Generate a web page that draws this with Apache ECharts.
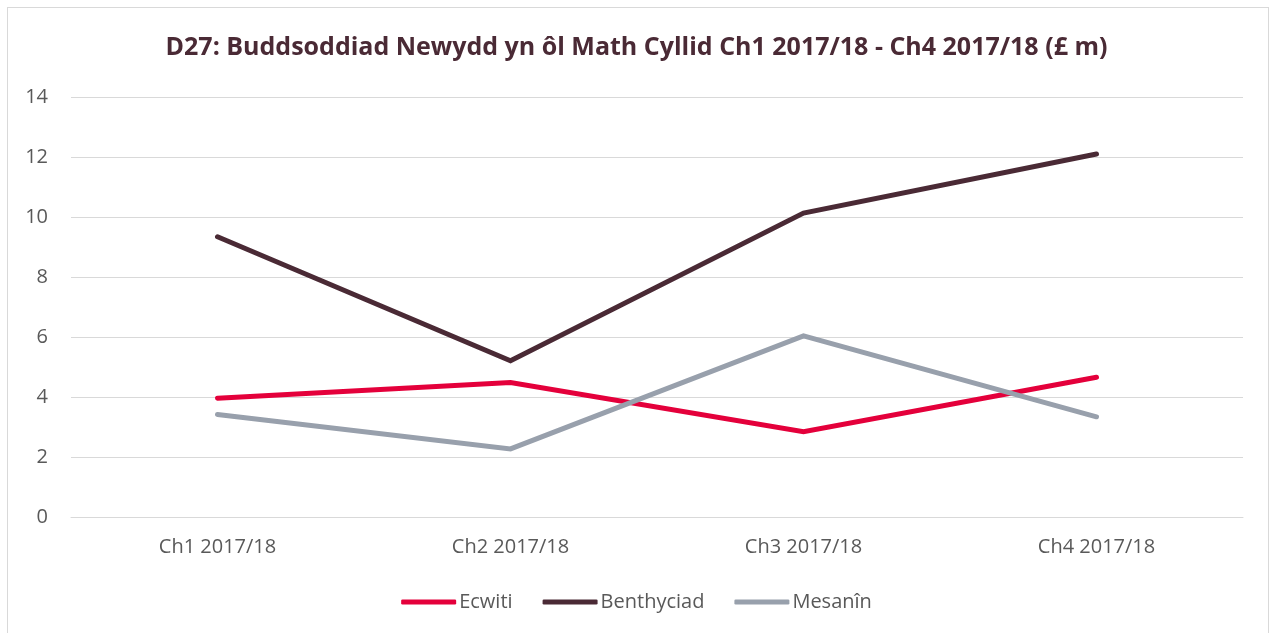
<!DOCTYPE html>
<html>
<head>
<meta charset="utf-8">
<script src="https://cdn.jsdelivr.net/npm/echarts@6/dist/echarts.min.js"></script>
<style>
  html, body { margin: 0; padding: 0; background: #fff; }
  #frame {
    position: absolute; left: 7px; top: 7px; width: 1262px; height: 640px;
    border: 1.5px solid #d9d9d9; box-sizing: border-box;
  }
  #chart { position: absolute; left: 0; top: 0; width: 1273px; height: 633px; }
</style>
</head>
<body>
<div id="frame"></div>
<div id="chart"></div>
<script>
  const categories = ['Ch1 2017/18', 'Ch2 2017/18', 'Ch3 2017/18', 'Ch4 2017/18']
  const ecwiti = [3.96, 4.48, 2.84, 4.66]
  const benthyciad = [9.34, 5.21, 10.13, 12.1]
  const mesanin = [3.42, 2.27, 6.04, 3.34]
  const yTicks = { min: 0, max: 14, interval: 2 }

  const textColor = '#595959'
  const font = '"Open Sans", "Noto Sans", sans-serif'

  const chart = echarts.init(document.getElementById('chart'))

  const makeSeries = (name, data, color) => ({
    name,
    type: 'line',
    data,
    symbol: 'none',
    lineStyle: { color, width: 5, cap: 'round', join: 'miter' },
    itemStyle: { color }
  })

  chart.setOption({
    animation: false,
    title: {
      text: 'D27: Buddsoddiad Newydd yn ôl Math Cyllid Ch1 2017/18 - Ch4 2017/18 (£ m)',
      left: 'center',
      top: 30,
      textStyle: { color: '#4a2a35', fontSize: 25, fontWeight: 'bold', fontFamily: font }
    },
    legend: {
      bottom: 16,
      left: 'center',
      itemWidth: 55,
      itemHeight: 5,
      itemGap: 30,
      icon: 'roundRect',
      textStyle: { color: textColor, fontSize: 20, fontFamily: font, padding: [0, 0, 0, -2] },
      data: ['Ecwiti', 'Benthyciad', 'Mesanîn']
    },
    grid: { left: 71, right: 30, top: 97, bottom: 116 },
    xAxis: {
      type: 'category',
      data: categories,
      boundaryGap: true,
      axisLine: { show: true, lineStyle: { color: '#d9d9d9', width: 1 } },
      axisTick: { show: false },
      axisLabel: { color: textColor, fontSize: 20, fontFamily: font, margin: 20 }
    },
    yAxis: {
      type: 'value',
      min: yTicks.min,
      max: yTicks.max,
      interval: yTicks.interval,
      axisLine: { show: false },
      axisTick: { show: false },
      axisLabel: { color: textColor, fontSize: 20, fontFamily: font, margin: 23 },
      splitLine: { lineStyle: { color: '#d9d9d9', width: 1 } }
    },
    series: [
      makeSeries('Ecwiti', ecwiti, '#e4003b'),
      makeSeries('Benthyciad', benthyciad, '#4a2a35'),
      makeSeries('Mesanîn', mesanin, '#98a0ac')
    ]
  })
</script>
</body>
</html>
